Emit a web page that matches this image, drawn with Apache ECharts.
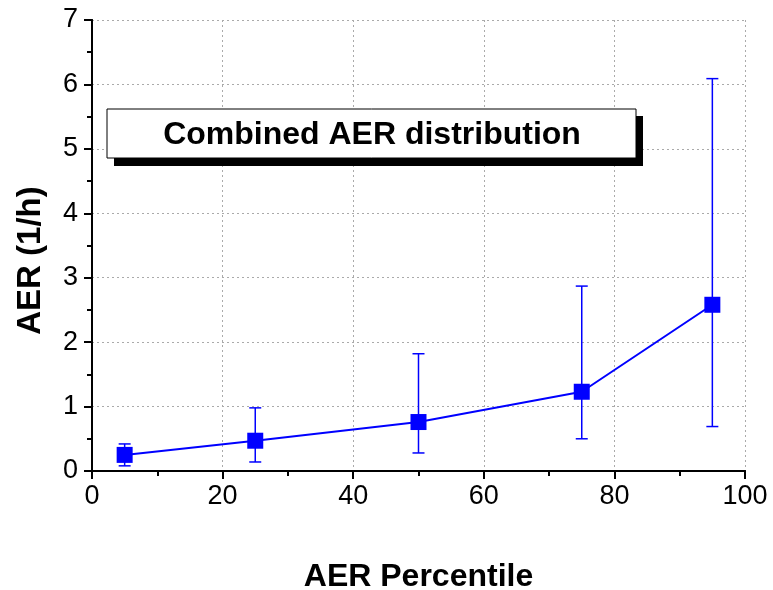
<!DOCTYPE html>
<html>
<head>
<meta charset="utf-8">
<script src="https://cdn.jsdelivr.net/npm/echarts@6/dist/echarts.min.js"></script>
<style>
  html, body { margin: 0; padding: 0; background: #fff; }
  #chart { width: 773px; height: 590px; }
</style>
</head>
<body>
<div id="chart"></div>
<script>
const percentiles = [5, 25, 50, 75, 95];
const aerMean = [0.25, 0.47, 0.76, 1.23, 2.58];
const aerLow = [0.08, 0.14, 0.28, 0.50, 0.69];
const aerHigh = [0.42, 0.98, 1.82, 2.87, 6.09];

const blue = '#0000ff';
const font = 'Liberation Sans, Arial, sans-serif';

const chart = echarts.init(document.getElementById('chart'));

const baseX = {
    type: 'value', min: 0, max: 100, interval: 20,
    axisLine: { show: true, lineStyle: { color: '#000', width: 2 } },
    axisTick: { show: true, length: 8, lineStyle: { color: '#000', width: 2 } },
    minorTick: { show: true, splitNumber: 2, length: 5, lineStyle: { color: '#000', width: 2 } },
    splitLine: { show: false }
};
const baseY = {
    type: 'value', min: 0, max: 7, interval: 1,
    axisLine: { show: true, lineStyle: { color: '#000', width: 2 } },
    axisTick: { show: true, length: 8, lineStyle: { color: '#000', width: 2 } },
    minorTick: { show: true, splitNumber: 2, length: 5, lineStyle: { color: '#000', width: 2 } },
    splitLine: { show: false }
};

const option = {
    animation: false,
    backgroundColor: '#fff',
    grid: { left: 92, right: 28, top: 20, bottom: 119, outerBoundsMode: 'none', containLabel: false },
    xAxis: [
        Object.assign({}, baseX, {
            position: 'bottom',
            name: 'AER Percentile',
            nameLocation: 'middle',
            nameGap: 90,
            nameTextStyle: { fontFamily: font, fontSize: 32, fontWeight: 'bold', color: '#000' },
            axisLabel: { fontFamily: font, fontSize: 27, color: '#000', margin: 12 },
            splitLine: { show: true, lineStyle: { color: '#aaa', type: [2, 3], width: 1 } }
        }),
        Object.assign({}, baseX, {
            position: 'top',
            axisTick: Object.assign({}, baseX.axisTick, { inside: true }),
            minorTick: Object.assign({}, baseX.minorTick),
            axisLabel: { show: false }
        })
    ],
    yAxis: [
        Object.assign({}, baseY, {
            position: 'left',
            name: 'AER (1/h)',
            nameLocation: 'middle',
            nameGap: 45,
            nameTextStyle: { fontFamily: font, fontSize: 33, fontWeight: 'bold', color: '#000', padding: [0, 30, 0, 0] },
            axisLabel: { fontFamily: font, fontSize: 27, color: '#000', margin: 14 },
            splitLine: { show: true, lineStyle: { color: '#aaa', type: [2, 3], width: 1 } }
        }),
        Object.assign({}, baseY, {
            position: 'right',
            axisTick: Object.assign({}, baseY.axisTick, { inside: true }),
            axisLabel: { show: false }
        })
    ],
    graphic: [
        { type: 'rect', shape: { x: 114, y: 116, width: 529, height: 50 }, style: { fill: '#000' }, z: 100 },
        { type: 'rect', shape: { x: 107, y: 109, width: 529, height: 49 }, style: { fill: '#fff', stroke: '#000', lineWidth: 1 }, z: 101 },
        {
            type: 'text', x: 372, y: 135, z: 102,
            style: { text: 'Combined AER distribution', fontFamily: font, fontSize: 32, fontWeight: 'bold', fill: '#000', align: 'center', verticalAlign: 'middle' }
        }
    ],
    series: [
        {
            type: 'custom',
            name: 'error',
            renderItem: function (params, api) {
                const x = api.value(0);
                const top = api.coord([x, api.value(2)]);
                const bot = api.coord([x, api.value(1)]);
                const hw = 6;
                const st = { stroke: blue, lineWidth: 1.5 };
                return {
                    type: 'group',
                    children: [
                        { type: 'line', shape: { x1: top[0], y1: top[1], x2: bot[0], y2: bot[1] }, style: st },
                        { type: 'line', shape: { x1: top[0] - hw, y1: top[1], x2: top[0] + hw, y2: top[1] }, style: st },
                        { type: 'line', shape: { x1: bot[0] - hw, y1: bot[1], x2: bot[0] + hw, y2: bot[1] }, style: st }
                    ]
                };
            },
            data: percentiles.map((p, i) => [p, aerLow[i], aerHigh[i]]),
            z: 2
        },
        {
            type: 'line',
            data: percentiles.map((p, i) => [p, aerMean[i]]),
            symbol: 'rect',
            symbolSize: 16,
            itemStyle: { color: blue },
            lineStyle: { color: blue, width: 2 },
            z: 3
        }
    ]
};

chart.setOption(option);
</script>
</body>
</html>
